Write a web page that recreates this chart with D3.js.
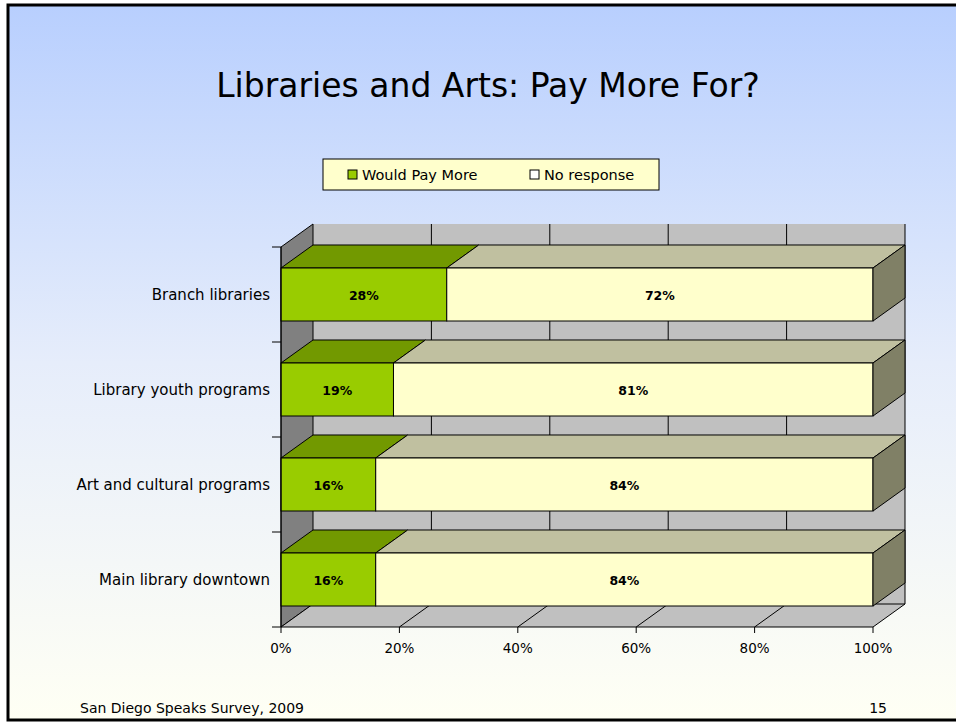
<!DOCTYPE html>
<html>
<head>
<meta charset="utf-8">
<script src="https://cdn.jsdelivr.net/npm/d3@7"></script>
<style>
  html, body { margin: 0; padding: 0; background: #fff; }
  svg { display: block; }
  text { font-family: "DejaVu Sans", Tahoma, Verdana, sans-serif; fill: #000; }
</style>
</head>
<body>
<svg id="chart" width="956" height="723"></svg>
<script>
// Survey results: share of respondents willing to pay more, per service
const categories = ["Branch libraries", "Library youth programs", "Art and cultural programs", "Main library downtown"];
const wouldPayMore = [28, 19, 16, 16];
const noResponse = [72, 81, 84, 84];
const seriesNames = ["Would Pay More", "No response"];
const xTicks = [0, 20, 40, 60, 80, 100];

const svg = d3.select("#chart");
const W = 956, H = 723;

// Slide background: blue at the top fading to cream
const defs = svg.append("defs");
const grad = defs.append("linearGradient").attr("id", "bg").attr("x1", 0).attr("y1", 0).attr("x2", 0).attr("y2", 1);
grad.append("stop").attr("offset", "0%").attr("stop-color", "#b8cffe");
grad.append("stop").attr("offset", "50%").attr("stop-color", "#e6edfb");
grad.append("stop").attr("offset", "100%").attr("stop-color", "#fffff4");
svg.append("rect").attr("width", W).attr("height", H).attr("fill", "#fff");
svg.append("rect").attr("x", 8).attr("y", 5).attr("width", W + 10).attr("height", 715)
  .attr("fill", "url(#bg)").attr("stroke", "#000").attr("stroke-width", 3);

// Title
svg.append("text").attr("x", 488).attr("y", 97).attr("text-anchor", "middle")
  .style("font-size", "33px").text("Libraries and Arts: Pay More For?");

// Scales (front plane) and 3D depth offset
const x = d3.scaleLinear().domain([0, 100]).range([281, 873]);
const y = d3.scaleBand().domain(categories).range([247, 627]).paddingInner(0.442).paddingOuter(0.221);
const dx = 32, dy = -23;
const x0 = x(0), x1 = x(100), yTop = 247, yBot = 627;

const poly = pts => pts.map(p => p.join(",")).join(" ");
const g = svg.append("g");

// Back wall with vertical gridlines
g.append("polygon").attr("points", poly([[x0 + dx, yTop + dy], [x1 + dx, yTop + dy], [x1 + dx, yBot + dy], [x0 + dx, yBot + dy]]))
  .attr("fill", "#c0c0c0");
g.selectAll(".vgrid").data(xTicks.slice(1)).enter().append("line")
  .attr("x1", d => x(d) + dx).attr("x2", d => x(d) + dx)
  .attr("y1", yTop + dy).attr("y2", yBot + dy)
  .attr("stroke", "#000").attr("stroke-width", 1);

// Left side wall
g.append("polygon").attr("points", poly([[x0, yTop], [x0 + dx, yTop + dy], [x0 + dx, yBot + dy], [x0, yBot]]))
  .attr("fill", "#808080").attr("stroke", "#000").attr("stroke-width", 1);

// Floor with diagonal gridlines
g.append("polygon").attr("points", poly([[x0, yBot], [x1, yBot], [x1 + dx, yBot + dy], [x0 + dx, yBot + dy]]))
  .attr("fill", "#c0c0c0").attr("stroke", "#000").attr("stroke-width", 1);
g.selectAll(".fgrid").data(xTicks.slice(1, -1)).enter().append("line")
  .attr("x1", d => x(d)).attr("x2", d => x(d) + dx)
  .attr("y1", yBot).attr("y2", yBot + dy)
  .attr("stroke", "#000").attr("stroke-width", 1);

// Bars
const segColors = [
  { front: "#99cc00", top: "#729900" },
  { front: "#ffffcc", top: "#c0c0a0" }
];
const sideColor = "#808066";
const bars = g.selectAll(".bar").data(categories).enter().append("g");
bars.each(function (cat, i) {
  const sel = d3.select(this);
  const yt = y(cat), h = y.bandwidth();
  const segs = [[0, wouldPayMore[i]], [wouldPayMore[i], wouldPayMore[i] + noResponse[i]]];
  segs.forEach((s, k) => {
    const a = x(s[0]), b = x(s[1]);
    // top face
    sel.append("polygon").attr("points", poly([[a, yt], [a + dx, yt + dy], [b + dx, yt + dy], [b, yt]]))
      .attr("fill", segColors[k].top).attr("stroke", "#000").attr("stroke-width", 1).attr("stroke-linejoin", "round");
    // front face
    sel.append("rect").attr("x", a).attr("y", yt).attr("width", b - a).attr("height", h)
      .attr("fill", segColors[k].front).attr("stroke", "#000").attr("stroke-width", 1);
  });
  // right end face
  const e = x(segs[1][1]);
  sel.append("polygon").attr("points", poly([[e, yt], [e + dx, yt + dy], [e + dx, yt + h + dy], [e, yt + h]]))
    .attr("fill", sideColor).attr("stroke", "#000").attr("stroke-width", 1);
  // value labels
  segs.forEach((s, k) => {
    sel.append("text").attr("x", (x(s[0]) + x(s[1])) / 2).attr("y", yt + h / 2 + 5)
      .attr("text-anchor", "middle").style("font-size", "12.5px").style("font-weight", "bold")
      .text((k === 0 ? wouldPayMore[i] : noResponse[i]) + "%");
  });
});

// Vertical category axis
const ax = svg.append("g");
ax.append("line").attr("x1", x0).attr("x2", x0).attr("y1", yTop).attr("y2", yBot).attr("stroke", "#000");
const bounds = categories.map(c => y(c) - y.step() * y.paddingInner() / 2).concat([yBot]);
bounds[0] = yTop;
ax.selectAll(".lt").data(bounds).enter().append("line")
  .attr("x1", x0 - 9).attr("x2", x0).attr("y1", d => d).attr("y2", d => d).attr("stroke", "#000");
ax.selectAll(".cl").data(categories).enter().append("text")
  .attr("x", 270).attr("y", d => y(d) + y.bandwidth() / 2 + 5)
  .attr("text-anchor", "end").style("font-size", "15px").text(d => d);

// Horizontal value axis
ax.selectAll(".bt").data(xTicks).enter().append("line")
  .attr("x1", d => x(d)).attr("x2", d => x(d)).attr("y1", yBot).attr("y2", yBot + 6).attr("stroke", "#000");
ax.selectAll(".bl").data(xTicks).enter().append("text")
  .attr("x", d => x(d)).attr("y", 653).attr("text-anchor", "middle")
  .style("font-size", "13.5px").text(d => d + "%");

// Legend
const lg = svg.append("g");
lg.append("rect").attr("x", 323).attr("y", 159).attr("width", 336).attr("height", 31)
  .attr("fill", "#ffffcc").attr("stroke", "#000").attr("stroke-width", 1);
const legX = [348, 530];
seriesNames.forEach((n, k) => {
  lg.append("rect").attr("x", legX[k]).attr("y", 170).attr("width", 9).attr("height", 9)
    .attr("fill", k === 0 ? "#99cc00" : "#ffffff").attr("stroke", "#000");
  lg.append("text").attr("x", legX[k] + 14).attr("y", 180).style("font-size", "14.5px").text(n);
});

// Footer
svg.append("text").attr("x", 80).attr("y", 713).style("font-size", "14px").text("San Diego Speaks Survey, 2009");
svg.append("text").attr("x", 887).attr("y", 713).attr("text-anchor", "end").style("font-size", "14px").text("15");
</script>
</body>
</html>
